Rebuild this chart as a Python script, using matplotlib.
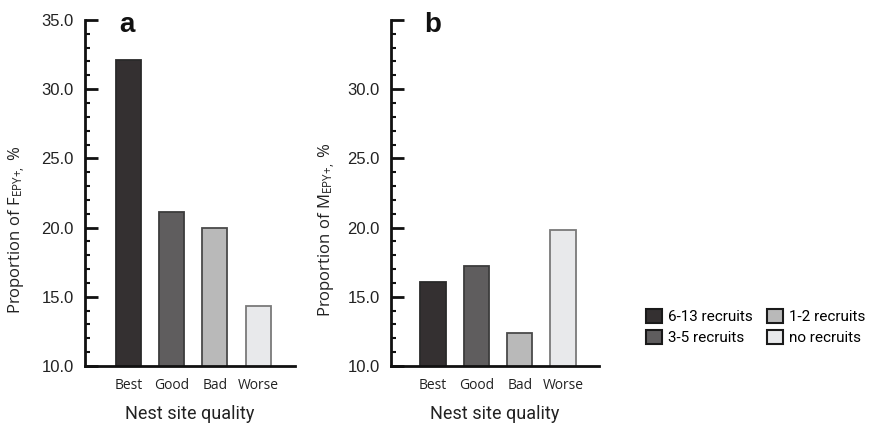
import matplotlib.pyplot as plt
from matplotlib.patches import Patch
from matplotlib.ticker import MultipleLocator

plt.rcParams["mathtext.fontset"] = "custom"
plt.rcParams["mathtext.rm"] = "Open Sans"
plt.rcParams["mathtext.it"] = "Open Sans:italic"
plt.rcParams["mathtext.bf"] = "Open Sans:bold"

# Data
categories = ["Best", "Good", "Bad", "Worse"]
females_epy = [32.1, 21.1, 20.0, 14.3]
males_epy = [16.1, 17.2, 12.4, 19.8]
recruit_groups = ["6-13 recruits", "3-5 recruits", "1-2 recruits", "no recruits"]

fills = ["#343031", "#5f5d5e", "#b9b9b9", "#e8e9eb"]
edges = ["#2a2a2a", "#3c3c3c", "#4a4a4a", "#7a7a7a"]

num_font = ["Liberation Sans", "DejaVu Sans"]
lab_font = ["Open Sans", "DejaVu Sans"]
txt_font = ["Roboto", "DejaVu Sans"]

fig = plt.figure(figsize=(8.83, 4.23), dpi=100)
ax_a = fig.add_axes([0.0963, 0.1348, 0.2378, 0.818])
ax_b = fig.add_axes([0.4428, 0.1348, 0.2356, 0.818])


def draw_panel(ax, values, letter, ylabel, xlim, labeled_ticks, ylabel_x):
    x = list(range(len(categories)))
    ax.bar(x, values, width=0.58, bottom=0, color=fills, edgecolor=edges,
           linewidth=1.3, zorder=2)
    ax.set_ylim(10, 35)
    ax.set_xlim(*xlim)
    for side in ("top", "right"):
        ax.spines[side].set_visible(False)
    for side in ("left", "bottom"):
        ax.spines[side].set_linewidth(2.0)
        ax.spines[side].set_color("#111111")
    ax.yaxis.set_major_locator(MultipleLocator(5))
    ax.yaxis.set_minor_locator(MultipleLocator(1))
    ax.tick_params(axis="y", which="major", direction="in", length=9,
                   width=2.0, color="#111111", pad=8)
    ax.tick_params(axis="y", which="minor", direction="in", length=3.5,
                   width=1.5, color="#111111")
    ticks = [10, 15, 20, 25, 30, 35]
    ax.set_yticks(ticks)
    ax.set_yticklabels([f"{t:.1f}" if t in labeled_ticks else "" for t in ticks],
                       fontfamily=num_font, fontsize=12, color="#222222")
    ax.set_xticks(x)
    ax.set_xticklabels(categories, fontfamily=lab_font, fontsize=10,
                       color="#222222")
    ax.tick_params(axis="x", length=0, pad=9)
    ax.set_xlabel("Nest site quality", fontfamily=txt_font, fontsize=13,
                  color="#222222", labelpad=8)
    ax.set_ylabel(ylabel, fontfamily=lab_font, fontsize=12, color="#222222")
    ax.yaxis.set_label_coords(ylabel_x, 0.393)
    ax.text(0.2, 0.985, letter, transform=ax.transAxes, fontfamily=num_font,
            fontsize=20, fontweight="bold", ha="center", va="center",
            color="#111111")


draw_panel(ax_a, females_epy, "a", r"Proportion of F$_{\mathregular{EPY{+}},}$ %",
           (-1.0, 3.85), [10, 15, 20, 25, 30, 35], -0.271)
draw_panel(ax_b, males_epy, "b", r"Proportion of M$_{\mathregular{EPY{+}},}$ %",
           (-0.97, 3.83), [10, 15, 20, 25, 30], -0.255)

handles = [Patch(facecolor=f, edgecolor="#1a1a1a", linewidth=1.5) for f in fills]
fig.legend(handles, recruit_groups, loc="center left",
           bbox_to_anchor=(0.716, 0.227), ncol=2, frameon=False,
           prop={"family": txt_font, "size": 11},
           handlelength=1.05, handleheight=1.1, handletextpad=0.4,
           columnspacing=0.9, labelspacing=0.35)

fig.savefig("out.png", dpi=100)
